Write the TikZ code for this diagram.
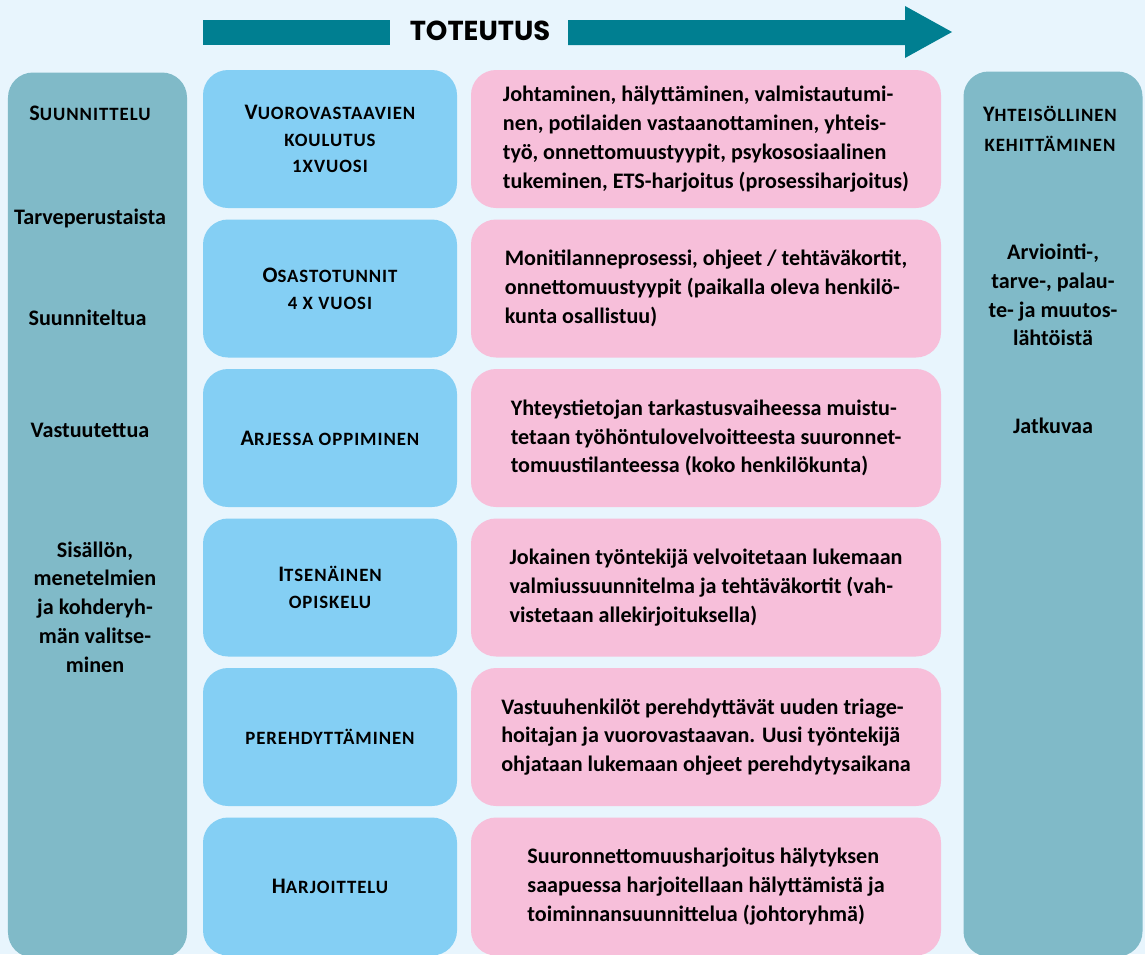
\documentclass[tikz,border=0pt]{standalone}
\usepackage{fontspec}
\setmainfont{Carlito}
\newfontfamily\titlefont{Poppins}
\usetikzlibrary{positioning}
\definecolor{bgblue}{HTML}{E8F5FD}
\definecolor{colteal}{HTML}{80BAC8}
\definecolor{boxblue}{HTML}{84CFF4}
\definecolor{boxpink}{HTML}{F7BFDA}
\definecolor{arrteal}{HTML}{007F91}
% kapiteelit kasin
\newcommand\kap[1]{{\fontsize{10.7}{15}\selectfont\addfontfeatures{LetterSpace=5}\MakeUppercase{#1}}}

\begin{document}
\begin{tikzpicture}[node distance=2.99cm,thin,font=\bfseries\fontsize{12.6}{16.4}\selectfont]
                \tikzset{box/.style={rounded corners=0.5cm, minimum width=5.08cm, minimum height=2.76cm, align=center, inner sep=0pt, fill=boxblue, font=\bfseries\fontsize{12.6}{15.2}\selectfont}}
                \tikzset{info/.style={box, minimum width=9.4cm, align=left, fill=boxpink, font=\bfseries\fontsize{12.6}{16.4}\selectfont}}
                \tikzset{column/.style={rounded corners=0.5cm, minimum width=3.58cm, minimum height=17.7cm, inner sep=0pt, fill=colteal}}
                \fill[bgblue] (0,0) rectangle (22.9,-19.08);
                \useasboundingbox (0,0) rectangle (22.9,-19.08);
                % otsikkonuoli
                \fill[arrteal] (4.06,-0.4) rectangle (7.8,-0.9);
                \node (T) at (9.6,-0.62) {\titlefont\bfseries\fontsize{15.6}{17}\selectfont TOTEUTUS};
                \fill[arrteal] (11.36,-0.4) -- (18.1,-0.4) -- (18.1,-0.12) -- (19.04,-0.64)
                        -- (18.1,-1.16) -- (18.1,-0.9) -- (11.36,-0.9) -- cycle;
                % sivupalkit
                \node[column] (L) at (1.95,-10.3) {};
                \node[column] (R) at (21.06,-10.28) {};
                \node (l1) at (1.8,-2.26) {S\kap{uunnittelu}};
                \node (l2) at (1.8,-4.36) {Tarveperustaista};
                \node (l3) at (1.75,-6.36) {Suunniteltua};
                \node (l4) at (1.8,-8.6) {Vastuutettua};
                \node[align=center] (l5) at (1.9,-12.14) {Sisällön,\\menetelmien\\ja kohderyh-\\män valitse-\\minen};
                \node[align=center] (r1) at (21.0,-2.58) {Y\kap{hteisöllinen}\\[1pt]\kap{kehittäminen}};
                \node[align=center] (r2) at (21.06,-5.9) {Arviointi-,\\tarve-, palau-\\te- ja muutos-\\lähtöistä};
                \node (r3) at (21.06,-8.52) {Jatkuvaa};
                % toteutustavat
                \node[box] (a1) at (6.6,-2.78) {V\kap{uorovastaavien}\\\kap{koulutus}\\\kap{1xvuosi}};
                \node[box] (a2) [below of=a1] {O\kap{sastotunnit}\\\kap{4 x vuosi}};
                \node[box] (a3) [below of=a2] {A\kap{rjessa oppiminen}};
                \node[box] (a4) [below of=a3] {I\kap{tsenäinen}\\\kap{opiskelu}};
                \node[box] (a5) [below of=a4] {\kap{perehdyttäminen}};
                \node[box] (a6) [below of=a5] {H\kap{arjoittelu}};
                % sisällöt
                \node[info] (b1) [right of=a1, node distance=7.52cm] {Johtaminen, hälyttäminen, valmistautumi-\\nen, potilaiden vastaanottaminen, yhteis-\\työ, onnettomuustyypit, psykososiaalinen\\tukeminen, ETS-harjoitus (prosessiharjoitus)};
                \node[info] (b2) [right of=a2, node distance=7.52cm] {Monitilanneprosessi, ohjeet / tehtäväkortit,\\onnettomuustyypit (paikalla oleva henkilö-\\kunta osallistuu)};
                \node[info] (b3) [right of=a3, node distance=7.52cm] {Yhteystietojan tarkastusvaiheessa muistu-\\tetaan työhöntulovelvoitteesta suuronnet-\\tomuustilanteessa (koko henkilökunta)};
                \node[info] (b4) [right of=a4, node distance=7.52cm] {Jokainen työntekijä velvoitetaan lukemaan\\valmiussuunnitelma ja tehtäväkortit (vah-\\vistetaan allekirjoituksella)};
                \node[info] (b5) [right of=a5, node distance=7.52cm] {Vastuuhenkilöt perehdyttävät uuden triage-\\hoitajan ja vuorovastaavan. Uusi työntekijä\\ohjataan lukemaan ohjeet perehdytysaikana};
                \node[info] (b6) [right of=a6, node distance=7.52cm] {Suuronnettomuusharjoitus hälytyksen\\saapuessa harjoitellaan hälyttämistä ja\\toiminnansuunnittelua (johtoryhmä)};
            \end{tikzpicture}
\end{document}
